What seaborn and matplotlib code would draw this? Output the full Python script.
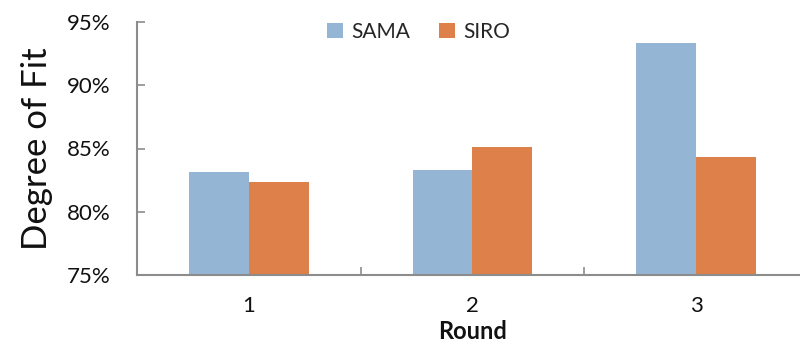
import matplotlib
matplotlib.use("Agg")
import matplotlib.pyplot as plt
import seaborn as sns
import pandas as pd
from matplotlib.ticker import FixedLocator, PercentFormatter

rounds = ["1", "2", "3"]
sama = [83.15, 83.3, 93.35]
siro = [82.35, 85.15, 84.3]
series = ["SAMA", "SIRO"]
colors = ["#95B5D4", "#DE8049"]
yticks = [75, 80, 85, 90, 95]

df = pd.DataFrame({
    "Round": rounds * 2,
    "value": sama + siro,
    "Method": ["SAMA"] * 3 + ["SIRO"] * 3,
})

sns.set_theme(style="white")
plt.rcParams["font.family"] = ["Lato", "DejaVu Sans"]

fig = plt.figure(figsize=(8, 3.43), dpi=100)
ax = fig.add_axes([137 / 800, 1 - 275 / 343, 671 / 800, 253 / 343])

sns.barplot(data=df, x="Round", y="value", hue="Method", hue_order=series,
            palette=colors, width=0.536, ax=ax, saturation=1, legend=True,
            linewidth=0)

ax.set_ylim(75, 95)
ax.set_xlim(-0.5, 2.5)
ax.set_yticks(yticks)
ax.yaxis.set_major_formatter(PercentFormatter(decimals=0))
ax.tick_params(axis="y", labelsize=16, length=6, width=1.2, color="#8C8C8C",
               direction="in", left=True, pad=19, labelcolor="#111111")
ax.tick_params(axis="x", which="major", labelsize=16, length=0, pad=15,
               labelcolor="#111111")
ax.xaxis.set_minor_locator(FixedLocator([0.5, 1.5]))
ax.tick_params(axis="x", which="minor", direction="in", length=6, width=1.2,
               color="#8C8C8C", bottom=True)

for s in ["top", "right"]:
    ax.spines[s].set_visible(False)
for s in ["left", "bottom"]:
    ax.spines[s].set_color("#8C8C8C")
    ax.spines[s].set_linewidth(1.5)

ax.set_ylabel("Degree of Fit", fontsize=25, labelpad=10, color="#111111")
ax.set_xlabel("Round", fontsize=17, fontweight="bold", labelpad=3, color="#111111")

leg = ax.legend(loc="upper center", bbox_to_anchor=(0.42, 1.075), ncol=2,
                frameon=False, fontsize=15, handlelength=0.75, handleheight=0.75,
                handletextpad=0.4, columnspacing=1.4)

fig.savefig("out.png", dpi=100)
